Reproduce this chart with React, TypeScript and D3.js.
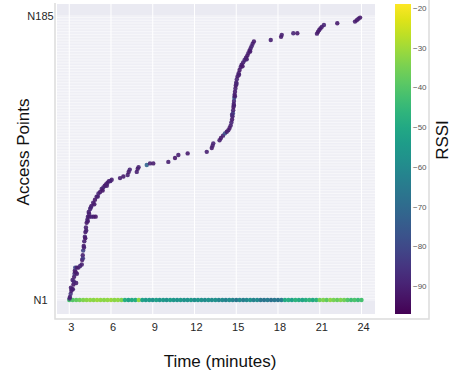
import React from "react";
import * as d3 from "d3";

// trajectory segments: [time (min), access point index, rssi]
const climbEarly: [number, number, number][] = [
  [3.02, 2, -88], [3.05, 3, -90], [3.1, 5, -86], [3.15, 7, -91], [3.2, 8, -89],
  [3.26, 8, -90], [3.3, 11, -92], [3.33, 13, -88], [3.5, 12, -90], [3.35, 16, -91],
  [3.38, 18, -87], [3.55, 18, -90], [3.4, 20, -92], [3.43, 22, -80], [3.55, 22, -90],
  [3.66, 22, -91], [3.78, 23, -88], [3.9, 24, -90], [3.93, 27, -92], [3.97, 30, -90],
  [4.0, 33, -82], [4.04, 36, -91], [4.08, 39, -90], [4.12, 42, -89], [4.16, 45, -91],
  [4.2, 48, -90], [4.25, 51, -92], [4.3, 53, -88], [4.34, 55, -90], [4.45, 55, -91],
  [4.6, 55, -89], [4.75, 55, -90], [4.9, 55, -92], [4.4, 58, -90], [4.5, 60, -88],
  [4.6, 62, -91], [4.72, 64, -90], [4.85, 66, -92], [4.97, 68, -90], [5.1, 70, -89],
  [5.22, 71, -91], [5.33, 73, -90], [5.45, 74, -88], [5.55, 75, -90], [5.65, 76, -92],
  [5.75, 77, -90], [5.85, 78, -91], [5.95, 78, -89], [6.05, 79, -90],
  // loose points beside the climb
  [3.12, 9, -90], [3.24, 14, -89], [3.47, 19, -91], [3.98, 28, -84], [4.06, 35, -90],
  [4.15, 41, -92], [4.22, 46, -90], [4.33, 52, -91], [4.42, 57, -90], [4.55, 61, -89],
  [4.8, 63, -91], [5.05, 68, -90], [5.4, 72, -92], [5.7, 75, -90],
];

const plateau: [number, number, number][] = [
  [6.65, 80, -90], [6.89, 81, -91], [7.2, 82, -90], [7.27, 84, -92], [7.35, 85.5, -89],
  [7.85, 84, -90], [7.92, 86, -91], [7.98, 87, -90], [8.57, 88.5, -72], [8.8, 89.5, -90],
  [9.04, 89.5, -91], [10.12, 90.5, -90], [10.6, 93, -92], [10.84, 95, -90], [11.51, 96, -91],
];

const climbLate: [number, number, number][] = [
  [12.88, 97, -90], [13.24, 99.5, -91], [13.3, 101, -90], [13.35, 102.5, -89],
  [13.8, 104.5, -90], [13.9, 106, -92], [14.05, 107.5, -90], [14.19, 109, -78],
  [14.32, 110, -91], [14.43, 111, -90], [14.52, 112.5, -92], [14.6, 114, -90],
  [14.65, 116, -89], [14.7, 118, -91], [14.73, 120, -90], [14.76, 122, -80],
  [14.78, 124, -90], [14.8, 126, -92], [14.82, 128, -90], [14.84, 130, -89],
  [14.86, 132, -78], [14.88, 134, -90], [14.91, 136, -91], [14.94, 138, -90],
  [14.97, 140, -92], [15.0, 142, -90], [15.04, 144, -89], [15.1, 146, -91],
  [15.17, 148, -90], [15.24, 150, -92], [15.32, 152, -90], [15.39, 153.5, -91],
  [15.5, 155, -90], [15.6, 156.5, -89], [15.7, 158, -90], [15.8, 159.5, -92],
  [15.87, 161, -90], [15.95, 162.5, -91], [16.03, 164, -90], [16.1, 165.5, -89],
  [16.18, 167, -90], [16.27, 168.5, -91],
  // loose points beside the climb
  [14.7, 121, -88], [14.83, 127, -90], [14.9, 133, -91], [15.02, 141, -89],
  [15.2, 147, -90], [15.45, 152.5, -92], [15.75, 157, -90], [16.0, 162, -91],
];

const tail: [number, number, number][] = [
  [17.48, 169.5, -90], [18.22, 171.5, -91], [18.27, 172.8, -90], [19.1, 173.8, -89],
  [19.39, 173.8, -91], [20.8, 173.6, -90], [20.88, 174.8, -92], [20.96, 176, -90],
  [21.05, 177, -91], [21.15, 178, -90], [21.3, 179.2, -89], [22.26, 180.3, -91],
  [23.53, 181.4, -90], [23.66, 182.3, -92], [23.78, 183.2, -90], [23.9, 184, -91],
];

// RSSI at access point N1, sampled every 15 s from minute 3 to 24
const n1Rssi = [
  -42, -40, -38, -36,
  -34, -33, -32, -33, -31, -32, -33, -32, -31, -33, -32, -34,
  -48, -52, -50, -49,
  -32,
  -52, -55, -54, -57, -53, -56, -55, -58, -54, -56, -57, -55, -58,
  -57, -55, -59, -56, -58, -60, -57, -59, -58, -61,
  -60, -63, -59, -62, -66, -60, -64, -61, -58, -63, -60,
  -66, -67, -65, -68, -66, -67, -64,
  -50, -48, -52, -47, -49, -51, -48, -46, -50, -47,
  -36, -34, -38, -33, -35, -37, -34, -36,
  -40, -43, -41, -44, -42,
];
const n1Times = n1Rssi.map((_, i) => 3 + i * 0.25);

const xTicks = [3, 6, 9, 12, 15, 18, 21, 24];
const yTickLabels = ["N1", "N185"];
const cbTicks = [-20, -30, -40, -50, -60, -70, -80, -90];
const apCount = 185;

const W = 453;
const H = 373;
const FONT = "'Liberation Sans', Arial, Helvetica, sans-serif";

export default function App() {
  const x = d3.scaleLinear().domain([2.12, 24.97]).range([57, 375]);
  const y = d3.scaleLinear().domain([-8.07, 192.8]).range([314, 4]);
  const color = d3.scaleSequential(d3.interpolateViridis).domain([-97, -19]);
  const cy = d3.scaleLinear().domain([-97, -19]).range([314, 4]);

  const trace = [...climbEarly, ...plateau, ...climbLate, ...tail];
  const rows = d3.range(1, apCount + 1);
  const stops = d3.range(0, 1.0001, 0.05);

  return (
    <svg
      width={W}
      height={H}
      style={{ position: "absolute", left: 0, top: 0, background: "#fff" }}
      fontFamily={FONT}
    >
      <defs>
        <linearGradient id="viridis" x1="0" y1="1" x2="0" y2="0">
          {stops.map((s) => (
            <stop key={s} offset={s} stopColor={d3.interpolateViridis(s)} />
          ))}
        </linearGradient>
      </defs>

      {/* outer frame */}
      <path d="M55,3 V319 H429 V0" fill="none" stroke="#dcdcdc" strokeWidth={1.5} />

      {/* plot background + grid */}
      <rect x={57} y={4} width={318} height={310} fill="#eaeaf2" />
      {rows.map((r) => (
        <line key={r} x1={57} x2={375} y1={y(r)} y2={y(r)} stroke="#fff" strokeWidth={0.6} />
      ))}
      {xTicks.map((t) => (
        <line key={t} x1={x(t)} x2={x(t)} y1={4} y2={314} stroke="#fff" strokeWidth={1} />
      ))}

      {/* N1 row */}
      {n1Times.map((t, i) => (
        <circle key={"n" + i} cx={x(t)} cy={y(1)} r={2.2} fill={color(n1Rssi[i])} />
      ))}

      {/* trajectory */}
      {trace.map((d, i) => (
        <circle key={"p" + i} cx={x(d[0])} cy={y(d[1])} r={2.2} fill={color(d[2])} opacity={0.9} />
      ))}

      {/* x ticks */}
      {xTicks.map((t) => (
        <text key={t} x={x(t) + 2} y={331} fontSize={11} fill="#262626" textAnchor="middle">
          {t}
        </text>
      ))}
      {/* y ticks */}
      {yTickLabels.map((lab) => {
        const v = lab === "N1" ? 1 : apCount;
        return (
          <text key={lab} x={40.5} y={y(v) + 4} fontSize={11} fill="#262626" textAnchor="middle">
            {lab}
          </text>
        );
      })}

      <text x={220} y={367} fontSize={17} fill="#111" textAnchor="middle">
        Time (minutes)
      </text>
      <text
        transform={`translate(29,152) rotate(-90)`}
        fontSize={17}
        fill="#111"
        textAnchor="middle"
      >
        Access Points
      </text>

      {/* colorbar */}
      <rect x={395} y={4} width={16} height={310} fill="url(#viridis)" />
      {cbTicks.map((t) => (
        <text key={t} x={413} y={cy(t) + 3} fontSize={8} fill="#555">
          {"\u2212" + Math.abs(t)}
        </text>
      ))}
      <text
        transform={`translate(448,140) rotate(-90)`}
        fontSize={17}
        fill="#111"
        textAnchor="middle"
      >
        RSSI
      </text>
    </svg>
  );
}
